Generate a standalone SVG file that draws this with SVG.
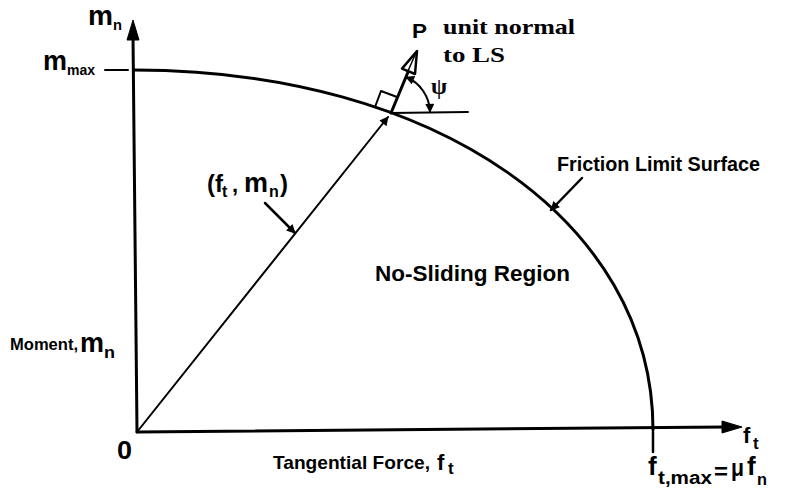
<svg xmlns="http://www.w3.org/2000/svg" width="803" height="489" viewBox="0 0 803 489">
<style>
.ln{stroke:#000;fill:none;stroke-linecap:round;stroke-linejoin:round}
.s{font-family:"Liberation Sans",Arial,sans-serif;font-weight:bold;fill:#000}
.r{font-family:"Liberation Serif","Times New Roman",serif;font-weight:bold;fill:#000}
.ah{fill:#000;stroke:#000;stroke-width:1;stroke-linejoin:round}
</style>
<defs>
<marker id="arr" viewBox="0 0 10 10" refX="9" refY="5" markerWidth="13" markerHeight="9" markerUnits="userSpaceOnUse" orient="auto-start-reverse">
<path d="M0,0 L10,5 L0,10 z" fill="#000"/>
</marker>
</defs>
<rect width="803" height="489" fill="#fff"/>

<g id="axes">
<line class="ln" x1="137" y1="432" x2="133" y2="36" stroke-width="3"/>
<polygon class="ah" points="133,20 127,40 139,40"/>
<line class="ln" x1="137" y1="432" x2="726" y2="427" stroke-width="3"/>
<polygon class="ah" points="742,427 722,421 722,433"/>
<line class="ln" x1="105" y1="70" x2="128" y2="70" stroke-width="2"/>
<line class="ln" x1="653" y1="432" x2="653" y2="452" stroke-width="2.5"/>
</g>

<g id="limit-surface">
<path class="ln" d="M134,70 C435,70 653,221 653,430" stroke-width="3"/>
</g>

<g id="connectors">
<line class="ln" x1="137" y1="432" x2="388" y2="117" stroke-width="2" marker-end="url(#arr)"/>
<line class="ln" x1="265" y1="203" x2="295" y2="233" stroke-width="2.5" marker-end="url(#arr)"/>
<line class="ln" x1="582" y1="178" x2="551" y2="210" stroke-width="2.5" marker-end="url(#arr)"/>
<line class="ln" x1="391" y1="113" x2="468" y2="112" stroke-width="2"/>
<polyline class="ln" points="375,107 381,91 397,97" stroke-width="2"/>
<line class="ln" x1="391" y1="113" x2="413" y2="60" stroke-width="3"/>
<polygon points="417,51 415,74 402,68.6" fill="#fff" stroke="#000" stroke-width="2.5" stroke-linejoin="round"/>
<line class="ln" x1="408" y1="71" x2="415" y2="55" stroke-width="1.5"/>
<path class="ln" d="M406,77 A39,39 0 0,1 430,112" stroke-width="2" marker-start="url(#arr)" marker-end="url(#arr)"/>
</g>

<g id="labels">
<text class="s" x="88" y="25" font-size="28" textLength="25" lengthAdjust="spacingAndGlyphs">m</text>
<text class="s" x="113" y="30" font-size="15" textLength="9" lengthAdjust="spacingAndGlyphs">n</text>

<text class="s" x="43" y="70" font-size="28" textLength="24" lengthAdjust="spacingAndGlyphs">m</text>
<text class="s" x="67" y="75" font-size="14" textLength="28" lengthAdjust="spacingAndGlyphs">max</text>

<text class="s" x="10" y="350" font-size="16" textLength="68" lengthAdjust="spacingAndGlyphs">Moment,</text>
<text class="s" x="80" y="352" font-size="27" textLength="24" lengthAdjust="spacingAndGlyphs">m</text>
<text class="s" x="104" y="358" font-size="17" textLength="11" lengthAdjust="spacingAndGlyphs">n</text>

<text class="s" x="117" y="459" font-size="26" textLength="15" lengthAdjust="spacingAndGlyphs">0</text>

<text class="s" x="273" y="469" font-size="19" textLength="157" lengthAdjust="spacingAndGlyphs">Tangential Force,</text>
<text class="s" x="437" y="470" font-size="22">f</text>
<text class="s" x="448" y="474" font-size="17">t</text>

<text class="s" x="743" y="443" font-size="22">f</text>
<text class="s" x="753" y="449" font-size="17">t</text>

<text class="s" x="648" y="475" font-size="26">f</text>
<text class="s" x="658" y="484" font-size="18" textLength="54" lengthAdjust="spacingAndGlyphs">t,max</text>
<text class="s" x="714" y="479" font-size="22" textLength="14" lengthAdjust="spacingAndGlyphs">=</text>
<text class="s" x="731" y="476" font-size="24" textLength="13" lengthAdjust="spacingAndGlyphs">μ</text>
<text class="s" x="747" y="475" font-size="26">f</text>
<text class="s" x="757" y="485" font-size="17" textLength="10" lengthAdjust="spacingAndGlyphs">n</text>

<text class="s" x="375" y="281" font-size="22" textLength="195" lengthAdjust="spacingAndGlyphs">No-Sliding Region</text>
<text class="s" x="557" y="171" font-size="21" textLength="203" lengthAdjust="spacingAndGlyphs">Friction Limit Surface</text>

<text class="s" font-size="24"><tspan x="207" y="192">(f</tspan><tspan x="222" y="197" font-size="16">t</tspan><tspan x="232" y="192" font-size="22">,</tspan><tspan x="244" y="192" font-size="27">m</tspan><tspan x="269" y="197" font-size="16">n</tspan><tspan x="280" y="192">)</tspan></text>

<text class="s" x="412" y="38" font-size="20" textLength="15" lengthAdjust="spacingAndGlyphs">P</text>
<text class="r" x="443" y="34" font-size="21" textLength="132" lengthAdjust="spacingAndGlyphs">unit normal</text>
<text class="r" x="443" y="62" font-size="21" textLength="62" lengthAdjust="spacingAndGlyphs">to LS</text>
<text class="r" x="431" y="94" font-size="24" textLength="16" lengthAdjust="spacingAndGlyphs">ψ</text>
</g>
</svg>
